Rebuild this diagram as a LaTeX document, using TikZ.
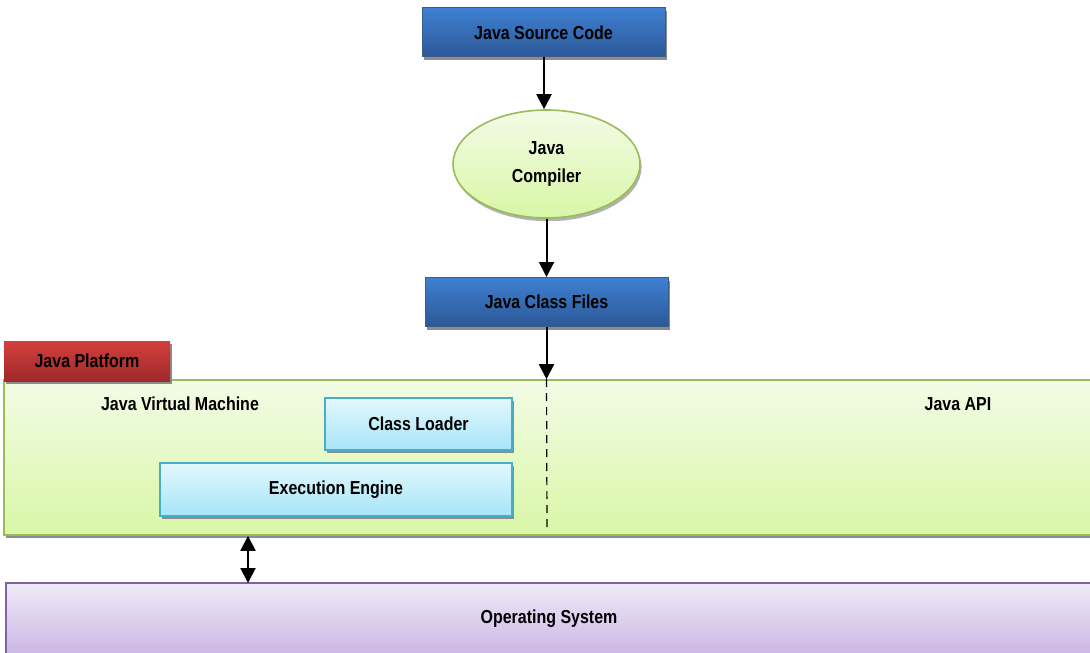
\documentclass[tikz,border=0pt]{standalone}
\usepackage{fontspec}
\setmainfont{Liberation Sans}[FakeStretch=0.85]
\usetikzlibrary{positioning, calc, shapes.geometric, shadows, arrows.meta}

\definecolor{blueTop}{HTML}{3F80D2}
\definecolor{blueBot}{HTML}{2C5896}
\definecolor{blueLine}{HTML}{385D8A}
\definecolor{greenTop}{HTML}{F3FBE6}
\definecolor{greenBot}{HTML}{D8F7A6}
\definecolor{greenLine}{HTML}{9BBB59}
\definecolor{redTop}{HTML}{D2403C}
\definecolor{redBot}{HTML}{A0282A}
\definecolor{cyanTop}{HTML}{E3F7FD}
\definecolor{cyanBot}{HTML}{A6E5F8}
\definecolor{cyanLine}{HTML}{4BACC6}
\definecolor{purpleTop}{HTML}{F0EAF7}
\definecolor{purpleBot}{HTML}{C8B3E3}
\definecolor{purpleLine}{HTML}{8064A2}

\begin{document}
\begin{tikzpicture}[
    x=0.5pt, y=-0.5pt,
    >={Triangle[length=7.5pt, width=7.5pt]},
    every node/.style={font=\fontsize{9.4}{14}\selectfont\bfseries},
    shade_box/.style={rectangle, inner sep=0pt,
        drop shadow={shadow xshift=0.8pt, shadow yshift=-1.6pt, fill=black!45, opacity=1}},
    blue_box/.style={shade_box, top color=blueTop, bottom color=blueBot, draw=blueLine, line width=0.5pt,
        minimum width=121.5pt, minimum height=24.5pt},
    cyan_box/.style={shade_box, top color=cyanTop, bottom color=cyanBot, draw=cyanLine, line width=0.8pt,
        minimum height=26pt},
    flow_line/.style={->, line width=1pt, black},
    label_text/.style={inner sep=0pt}
]
    \useasboundingbox (0,0) rectangle (1090,652);

    % ======================================================================
    % Compile chain
    % ======================================================================
    \node[blue_box] (src) at (543.5,32.5) {Java Source Code};

    \node[ellipse, inner sep=0pt, minimum width=93.5pt, minimum height=54pt,
          top color=greenTop, bottom color=greenBot, draw=greenLine, line width=0.8pt, align=center,
          drop shadow={shadow xshift=0.8pt, shadow yshift=-1.6pt, fill=black!30, opacity=1}]
        (comp) at (546.5,164) {Java\\Compiler};

    \node[blue_box] (cls) at (546.5,302) {Java Class Files};

    % ======================================================================
    % Java platform
    % ======================================================================
    \node[shade_box, top color=greenTop, bottom color=greenBot, draw=greenLine, line width=0.8pt,
          minimum width=545.5pt, minimum height=77.5pt] (platform) at (549.5,457.5) {};

    \node[shade_box, top color=redTop, bottom color=redBot,
          minimum width=83pt, minimum height=20pt] (tab) at (87,361) {Java Platform};

    \node[label_text] (jvm) at (180,404) {Java Virtual Machine};
    \node[label_text] (api) at (958,404) {Java API};

    \node[cyan_box, minimum width=93.5pt] (loader) at (418.5,424) {Class Loader};
    \node[cyan_box, minimum width=176pt, minimum height=26.5pt] (engine) at (336,489.5) {Execution Engine};

    % ======================================================================
    % Operating system
    % ======================================================================
    \node[rectangle, inner sep=0pt, top color=purpleTop, bottom color=purpleBot, draw=purpleLine,
          line width=0.8pt, minimum width=544.5pt, minimum height=38.5pt] (os) at (550.5,621.5) {};
    \node[label_text] (ostext) at (549,619) {Operating System};

    % Pfeile
    \coordinate (entry) at (cls.south |- platform.north);
    \coordinate (divend) at (547,530);
    \coordinate (osport) at (248,583);

    \draw[flow_line] (src.south -| 544,0) -- (comp.north -| 544,0);
    \draw[flow_line] (comp.south -| cls.south) -- (cls.north);
    \draw[flow_line] (cls.south) -- (entry);
    \draw[black, line width=0.6pt, dash pattern=on 4pt off 3pt] (entry) -- (divend);
    \draw[<->, line width=1pt, black] (osport |- platform.south) -- (osport);

\end{tikzpicture}
\end{document}
